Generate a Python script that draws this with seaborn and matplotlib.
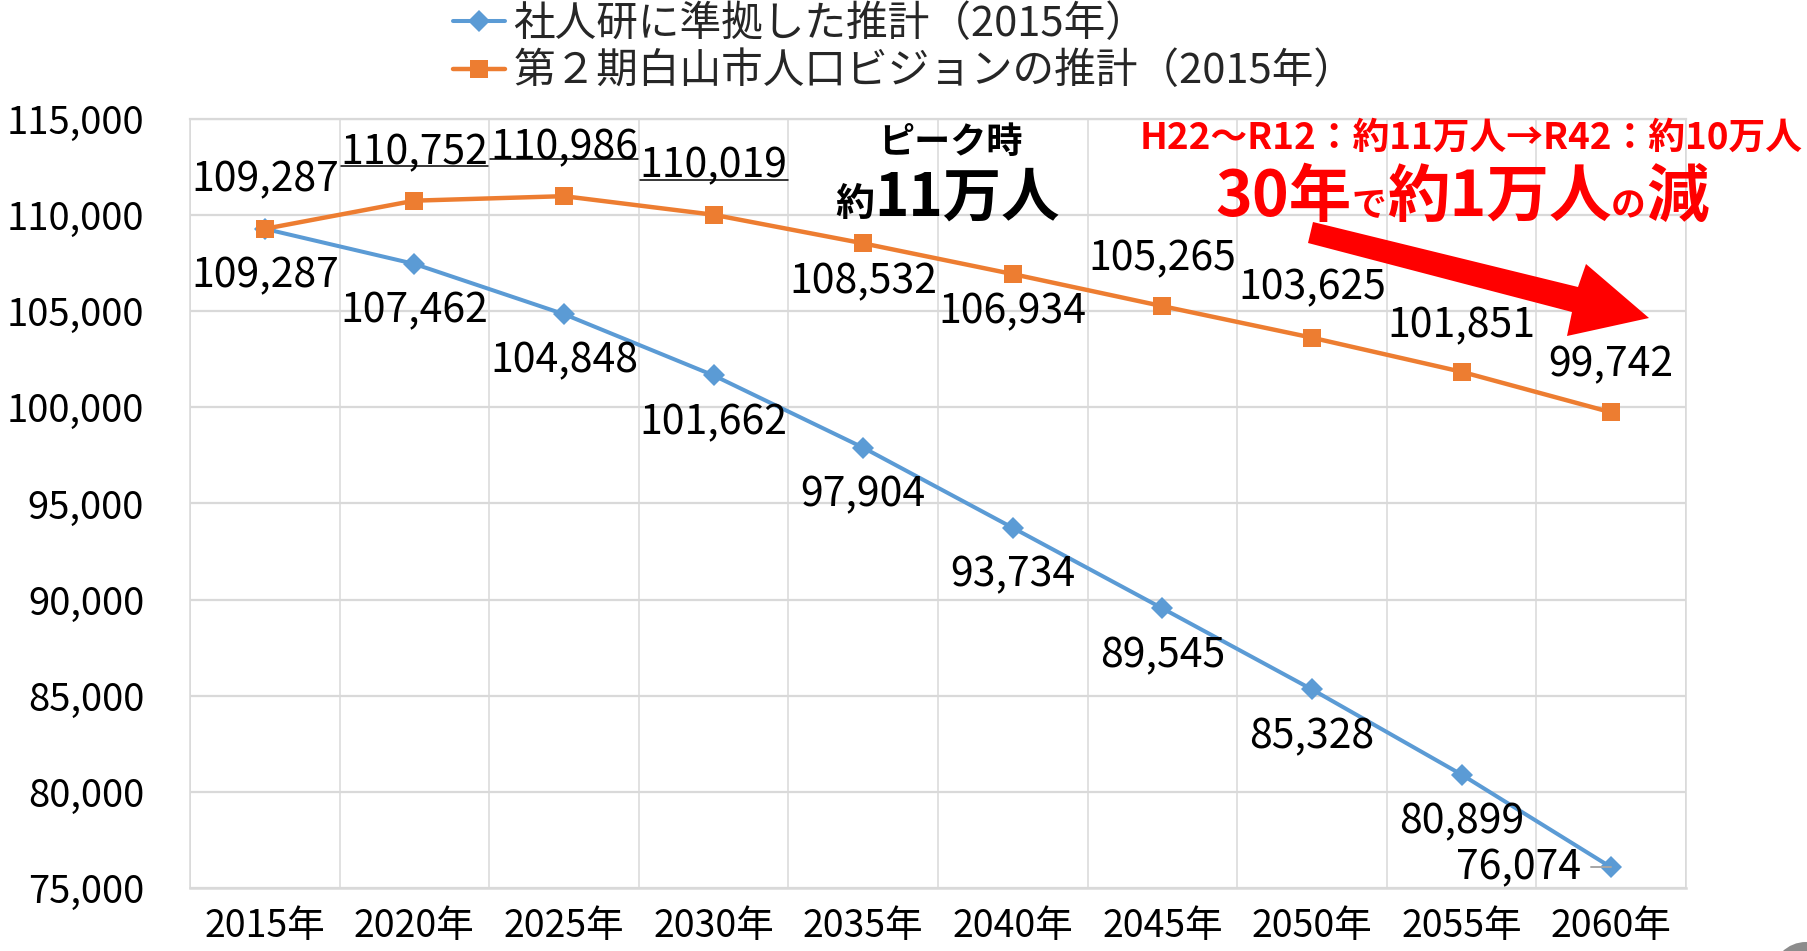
import matplotlib
matplotlib.use("Agg")
import matplotlib.pyplot as plt
import matplotlib.transforms as mtransforms
from matplotlib.lines import Line2D
from matplotlib.patches import Polygon, Circle
import numpy as np
import pandas as pd
import seaborn as sns

# ---------------- data ----------------
years = ["2015年", "2020年", "2025年", "2030年", "2035年",
         "2040年", "2045年", "2050年", "2055年", "2060年"]
ipss_values = [109287, 107462, 104848, 101662, 97904,
               93734, 89545, 85328, 80899, 76074]
city_values = [109287, 110752, 110986, 110019, 108532,
               106934, 105265, 103625, 101851, 99742]
series_names = ["社人研に準拠した推計（2015年）",
                "第２期白山市人口ビジョンの推計（2015年）"]
y_ticks = list(range(75000, 115001, 5000))

# ---------------- style ----------------
W, H = 1808, 951
sns.set_theme(style="white")
plt.rcParams["font.family"] = ["Noto Sans CJK JP", "DejaVu Sans"]
BLUE = "#5B9BD5"
ORANGE = "#ED7D31"
GRID = "#D9D9D9"
RED = "#FF0000"

fig = plt.figure(figsize=(W / 100, H / 100), dpi=100)
fig.patch.set_facecolor("white")
ax = fig.add_axes([190 / W, 1 - 888 / H, (1686 - 190) / W, (888 - 119) / H])

df = pd.DataFrame({
    "year": years * 2,
    "value": ipss_values + city_values,
    "series": [series_names[0]] * len(years) + [series_names[1]] * len(years),
})

sns.lineplot(data=df, x="year", y="value", hue="series", style="series",
             palette=[BLUE, ORANGE], markers=["D", "s"], dashes=False,
             markersize=11, markeredgewidth=0, linewidth=2.9, ax=ax,
             legend=False, sort=False)
lines = ax.get_lines()
lines[0].set_markersize(11)
lines[0].set_linewidth(2.9)
lines[1].set_markersize(12.5)
lines[1].set_linewidth(3.2)

ax.set_xlim(-0.5, len(years) - 0.5)
ax.set_ylim(y_ticks[0], y_ticks[-1])
ax.set_yticks(y_ticks)
ax.set_yticklabels([f"{v:,}" for v in y_ticks], fontsize=27.5, color="black")
ax.set_xticks(range(len(years)))
ax.set_xticklabels(years, fontsize=27, color="black")
ax.set_xticks(np.arange(-0.5, len(years), 1.0), minor=True)
ax.tick_params(axis="both", which="both", length=0)
ax.tick_params(axis="y", pad=33)
ax.tick_params(axis="x", pad=14)
ax.set_xlabel("")
ax.set_ylabel("")
ax.grid(False)
ax.grid(True, axis="y", which="major", color=GRID, linewidth=1.6)
ax.grid(True, axis="x", which="minor", color=GRID, linewidth=1.1)
for sp in ax.spines.values():
    sp.set_color(GRID)
    sp.set_linewidth(1.1)
ax.spines["bottom"].set_linewidth(1.8)
ax.spines["top"].set_linewidth(1.6)

# ---------------- data labels ----------------
ipss_offsets = [(0, -47)] * 9 + [(-93, 0)]
city_offsets = [(0, 49), (0, 48), (0, 48), (0, 49), (0, -38),
                (0, -38), (0, 47), (0, 50), (0, 46), (0, 48)]

fig.canvas.draw()
renderer = fig.canvas.get_renderer()

ipss_texts = []
for i, v in enumerate(ipss_values):
    t = ax.annotate(f"{v:,}", xy=(i, v), xytext=ipss_offsets[i],
                    textcoords="offset pixels", ha="center", va="center",
                    fontsize=29.5, color="black")
    ipss_texts.append(t)
city_texts = []
for i, v in enumerate(city_values):
    t = ax.annotate(f"{v:,}", xy=(i, v), xytext=city_offsets[i],
                    textcoords="offset pixels", ha="center", va="center",
                    fontsize=29.5, color="black")
    city_texts.append(t)

fig.canvas.draw()
ident = mtransforms.IdentityTransform()
# leader lines under the moved labels
for i, dy in ((1, 7), (2, 10), (3, 6)):
    bb = city_texts[i].get_window_extent(renderer)
    yl = bb.y0 + dy
    fig.add_artist(Line2D([bb.x0, bb.x1], [yl, yl], transform=ident,
                          color="black", linewidth=1.1))
# small leader for last blue label
bb = ipss_texts[-1].get_window_extent(renderer)
px, py = ax.transData.transform((len(years) - 1, ipss_values[-1]))
fig.add_artist(Line2D([bb.x1 + 10, px], [py, py], transform=ident,
                      color="#A6A6A6", linewidth=1.4))

# ---------------- legend ----------------
handles = [Line2D([0], [0], color=BLUE, marker="D", markersize=11,
                  markeredgewidth=0, linewidth=2.9),
           Line2D([0], [0], color=ORANGE, marker="s", markersize=12.5,
                  markeredgewidth=0, linewidth=3.2)]
fig.legend(handles, series_names, loc="upper left",
           bbox_to_anchor=(453 / W, 1 - 4 / H), frameon=False,
           fontsize=30, handlelength=1.25, handletextpad=0.2,
           labelspacing=0.15, borderpad=0, borderaxespad=0)


# ---------------- annotations ----------------
def text_runs(x_left, baseline_top, runs, color, center=None):
    arts = []
    x = x_left
    for s, size in runs:
        t = fig.text(x / W, 1 - baseline_top / H, s, fontsize=size,
                     fontweight="bold", color=color, ha="left", va="baseline")
        bbx = t.get_window_extent(renderer)
        x = bbx.x1
        arts.append(t)
    if center is not None:
        total = x - x_left
        shift = center - total / 2 - x_left
        for t in arts:
            xx, yy = t.get_position()
            t.set_position((xx + shift / W, yy))
    return arts


fig.text(950 / W, 1 - 142 / H, "ピーク時", fontsize=26, fontweight="bold",
         color="black", ha="center", va="center")
text_runs(833, 216, [("約", 28), ("11万人", 42)], "black", center=948)

fig.text(1803 / W, 1 - 138 / H, "H22～R12：約11万人→R42：約10万人",
         fontsize=26.5, fontweight="bold", color=RED, ha="right", va="center")
text_runs(1225, 216, [("30年", 45), ("で", 25), ("約1万人", 45),
                      ("の", 25), ("減", 45)], RED, center=1462)

arrow_px = [(1313, 222), (1578, 287), (1586, 264), (1649, 318),
            (1567, 336), (1572, 312), (1308, 243)]
fig.add_artist(Polygon([(x / W, 1 - y / H) for x, y in arrow_px],
                       closed=True, transform=fig.transFigure,
                       facecolor=RED, edgecolor="none"))

fig.add_artist(Circle((1806, H - 976), 34, transform=ident,
                      facecolor="#8C8C8C", edgecolor="none"))

fig.savefig("out.png", dpi=100, facecolor="white")
